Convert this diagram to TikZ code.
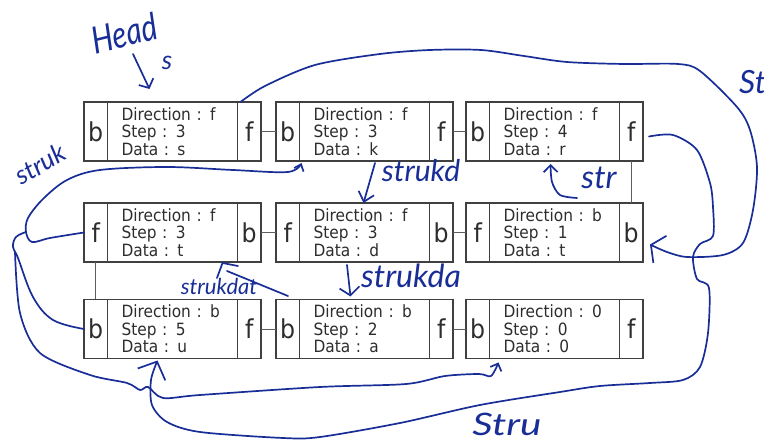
\documentclass[tikz,border=0pt]{standalone}
\usepackage{fontspec}
\usepackage{tikz}
\usetikzlibrary{positioning}
\usetikzlibrary{arrows.meta}
\newfontfamily\boxfont{DejaVu Sans}[FakeStretch=0.91]
\newfontfamily\handfont{Lato}
\definecolor{boxline}{RGB}{64,64,64}
\definecolor{boxtext}{RGB}{45,45,45}
\definecolor{ink}{RGB}{25,45,150}

\tikzset{
  midcell/.style={draw=boxline, line width=1.1pt, outer sep=0pt, minimum height=59pt,
    text width=102pt, inner xsep=14pt, inner ysep=0pt, align=left, text=boxtext,
    font=\boxfont\fontsize{16.9}{17.5}\selectfont},
  endcell/.style={draw=boxline, line width=1.1pt, outer sep=0pt, minimum height=59pt,
    minimum width=23.5pt, inner sep=0pt, text=boxtext,
    font=\boxfont\fontsize{26}{26}\selectfont},
  link/.style={draw=boxline!85, line width=0.9pt},
  hand/.style={draw=ink, line width=1.7pt, line cap=round, line join=round},
  handtext/.style={text=ink, inner sep=0pt, font=\handfont\itshape\fontsize{#1}{#1}\selectfont},
}

\begin{document}
\begin{tikzpicture}[x=1pt,y=-1pt]
\useasboundingbox (0,0) rectangle (764,443);

% row 1
\node[midcell] (m11) at (172.5,131.5) {Direction : f\\Step : 3\\Data : s};
\node[endcell, left=0pt of m11] (l11) {b};
\node[endcell, right=0pt of m11] (r11) {f};
\node[midcell] (m12) at (364.5,131.5) {Direction : f\\Step : 3\\Data : k};
\node[endcell, left=0pt of m12] (l12) {b};
\node[endcell, right=0pt of m12] (r12) {f};
\node[midcell] (m13) at (554.5,131.5) {Direction : f\\Step : 4\\Data : r};
\node[endcell, left=0pt of m13] (l13) {b};
\node[endcell, right=0pt of m13] (r13) {f};

% row 2
\node[midcell] (m21) at (172.5,232.5) {Direction : f\\Step : 3\\Data : t};
\node[endcell, left=0pt of m21] (l21) {f};
\node[endcell, right=0pt of m21] (r21) {b};
\node[midcell] (m22) at (364.5,232.5) {Direction : f\\Step : 3\\Data : d};
\node[endcell, left=0pt of m22] (l22) {f};
\node[endcell, right=0pt of m22] (r22) {b};
\node[midcell] (m23) at (554.5,232.5) {Direction : b\\Step : 1\\Data : t};
\node[endcell, left=0pt of m23] (l23) {f};
\node[endcell, right=0pt of m23] (r23) {b};

% row 3
\node[midcell] (m31) at (172.5,329) {Direction : b\\Step : 5\\Data : u};
\node[endcell, left=0pt of m31] (l31) {b};
\node[endcell, right=0pt of m31] (r31) {f};
\node[midcell] (m32) at (364.5,329) {Direction : b\\Step : 2\\Data : a};
\node[endcell, left=0pt of m32] (l32) {b};
\node[endcell, right=0pt of m32] (r32) {f};
\node[midcell] (m33) at (554.5,329) {Direction : 0\\Step : 0\\Data : 0};
\node[endcell, left=0pt of m33] (l33) {b};
\node[endcell, right=0pt of m33] (r33) {f};

% links
\draw[link] (r11) -- (l12);
\draw[link] (r12) -- (l13);
\draw[link] (r13) -- (r23);
\draw[link] (l23) -- (r22);
\draw[link] (l22) -- (r21);
\draw[link] (l21) -- (l31);
\draw[link] (r31) -- (l32);
\draw[link] (r32) -- (l33);

% scribbles
\node[handtext=30, rotate=14, yscale=1.25] (head) at (124,33) {Head};
\node[handtext=26] (heads) at (167,63) {s};
\node[handtext=26, rotate=30] (struklbl) at (40,164) {struk};
\node[handtext=30] (strukdlbl) at (421,171) {strukd};
\node[handtext=32] (strlbl) at (599,178) {str};
\node[handtext=22] (strukdatlbl) at (219,286) {strukdat};
\node[handtext=32] (strukdalbl) at (411,276) {strukda};
\node[handtext=31, xscale=1.3] (strulbl) at (507,424) {Stru};
\node[handtext=32, anchor=west] (stlbl) at (739,82) {St};

\coordinate (headtail) at (133,54);
\coordinate (knot) at (26,232);
\coordinate (strtail) at (577,198);
\coordinate (dtail) at (375,163);
\coordinate (datail) at (347,265);
\coordinate (dattail) at (217,278);
\coordinate (datbar) at (227,271);

\draw[hand, -{Straight Barb[length=7pt,width=16pt]}] (headtail) -- ([xshift=42pt,yshift=13pt]m11.north west);

\draw[hand, -{Straight Barb[length=6pt,width=10pt]}] plot[smooth, tension=0.55] coordinates {(l21.west) (50,238) (32,242) (knot) (28,218) (43,199) (67,180) (100,170) (167,167) (233,170) (288,172) ([xshift=2pt,yshift=-2pt]l12.south east)};
\draw[hand] plot[smooth, tension=0.6] coordinates {(knot) (16,237) (13,247) (18,258) (33,297) (53,320) (l31.west)};
\draw[hand, -{Straight Barb[length=6pt,width=12pt]}] plot[smooth, tension=0.5] coordinates {(15,252) (20,313) (40,353) (90,375) (127,383) (140,390) (148,387) (163,398) (200,395) (320,387) (406,384) (445,376) (479,374) (491,376) ([xshift=9pt,yshift=-4pt]m33.south west)};

\draw[hand, -{Straight Barb[length=14pt,width=30pt]}] plot[smooth, tension=0.5] coordinates {([xshift=6pt,yshift=-5pt]r13.east) (673,135) (697,150) (710,183) (713,207) (713,236) (700,244) (693,257) (697,279) (709,288) (708,333) (700,367) (683,380) (650,383) (600,386) (560,392) (480,405) (400,423) (320,437) (283,438) (200,432) (167,422) (152,405) (151,380) ([xshift=50pt,yshift=-2pt]m31.south west)};

\draw[hand, -{Straight Barb[length=10pt,width=30pt]}] plot[smooth, tension=0.5] coordinates {([xshift=3pt]r11.north west) (265,86) (315,65) (380,54) (430,50) (481,50) (524,56) (567,62) (624,64) (678,64) (700,71) (737,107) (750,130) (757,167) (753,210) (743,243) (723,255) (687,257) (667,252) ([xshift=7pt,yshift=-12pt]r23.east)};

\draw[hand, -{Straight Barb[length=7pt,width=14pt]}] plot[smooth] coordinates {(strtail) (560,195) (552,182) ([xshift=-4pt,yshift=-3pt]m13.south)};
\draw[hand, -{Straight Barb[length=9pt,width=16pt]}] (dtail) -- ([xshift=-1pt]m22.north);
\draw[hand, -{Straight Barb[length=8pt,width=20pt]}] (datail) -- ([xshift=-14pt,yshift=3pt]m32.north);
\draw[hand] (dattail) -- ([xshift=-15pt,yshift=-1pt]m21.south east) -- (238,266);
\draw[hand] (datbar) -- (288,296);
\end{tikzpicture}
\end{document}
